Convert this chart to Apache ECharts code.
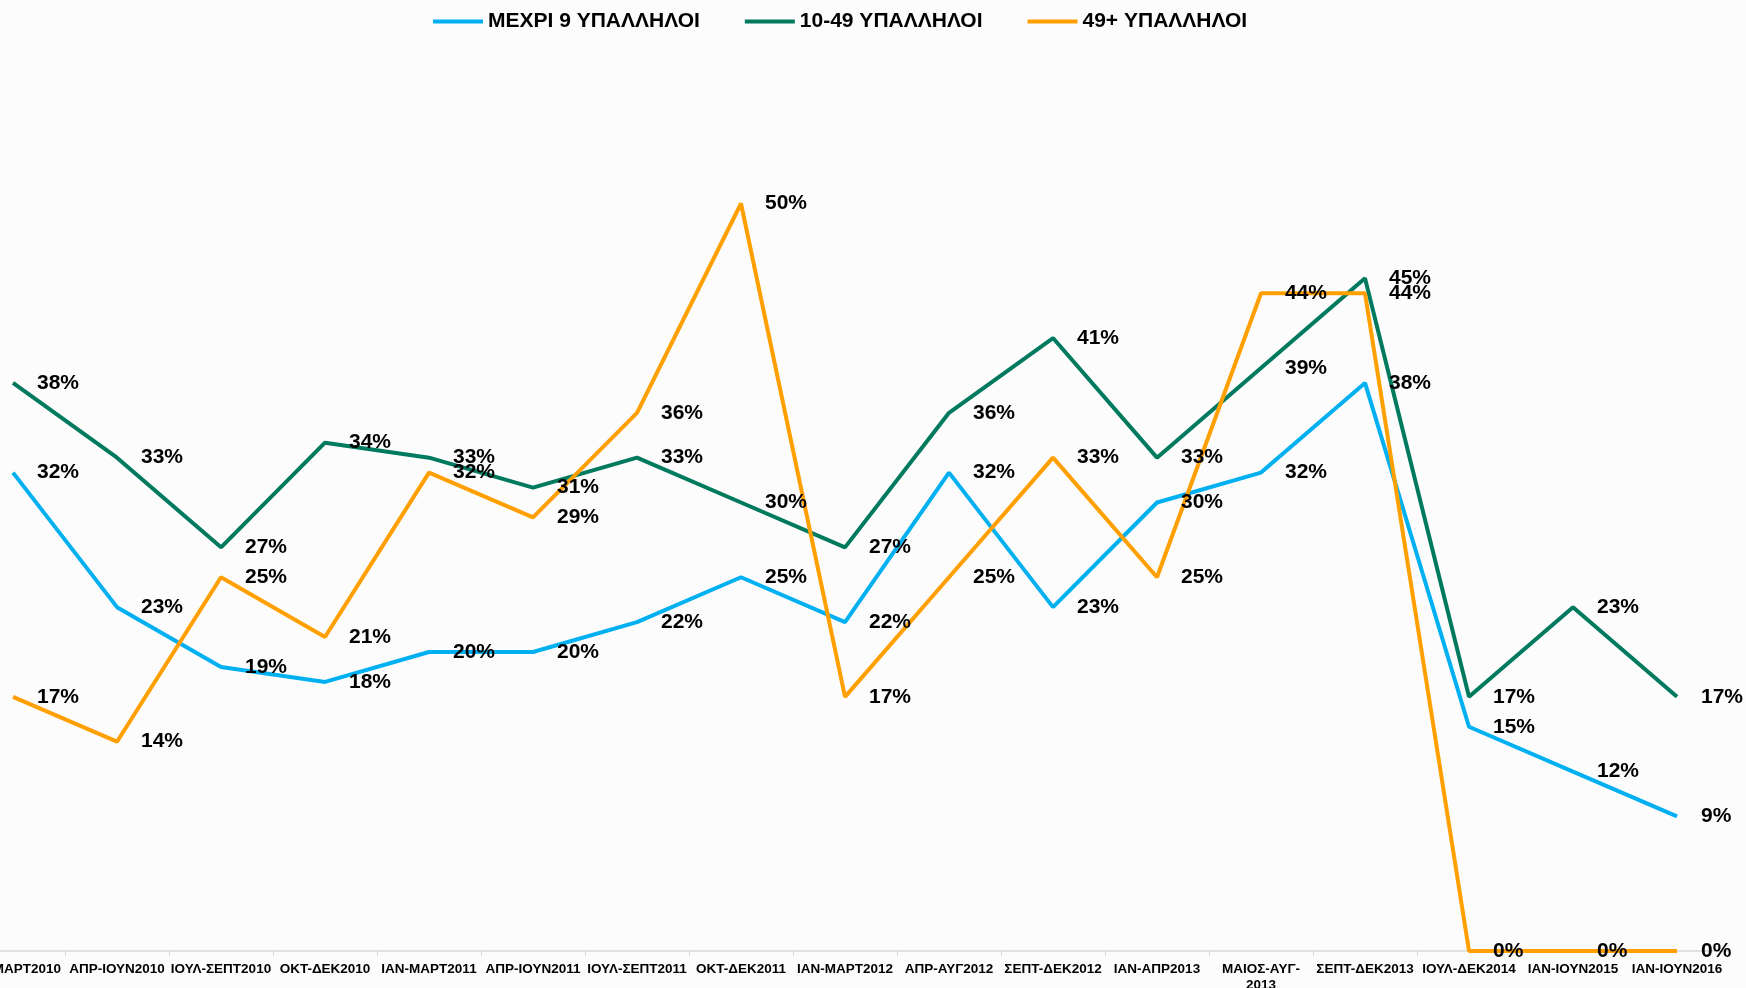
<!DOCTYPE html>
<html>
<head>
<meta charset="utf-8">
<script src="https://cdn.jsdelivr.net/npm/echarts@6/dist/echarts.min.js"></script>
<style>
  html, body { margin: 0; padding: 0; background: #fcfcfc; }
  #chart { width: 1746px; height: 988px; }
</style>
</head>
<body>
<div id="chart"></div>
<script>
const categories = [
  "ΙΑΝ-ΜΑΡΤ2010", "ΑΠΡ-ΙΟΥΝ2010", "ΙΟΥΛ-ΣΕΠΤ2010", "ΟΚΤ-ΔΕΚ2010",
  "ΙΑΝ-ΜΑΡΤ2011", "ΑΠΡ-ΙΟΥΝ2011", "ΙΟΥΛ-ΣΕΠΤ2011", "ΟΚΤ-ΔΕΚ2011",
  "ΙΑΝ-ΜΑΡΤ2012", "ΑΠΡ-ΑΥΓ2012", "ΣΕΠΤ-ΔΕΚ2012", "ΙΑΝ-ΑΠΡ2013",
  "ΜΑΙΟΣ-ΑΥΓ-\n2013", "ΣΕΠΤ-ΔΕΚ2013", "ΙΟΥΛ-ΔΕΚ2014", "ΙΑΝ-ΙΟΥΝ2015", "ΙΑΝ-ΙΟΥΝ2016"
];
const upTo9 = [32, 23, 19, 18, 20, 20, 22, 25, 22, 32, 23, 30, 32, 38, 15, 12, 9];
const from10to49 = [38, 33, 27, 34, 33, 31, 33, 30, 27, 36, 41, 33, 39, 45, 17, 23, 17];
const over49 = [17, 14, 25, 21, 32, 29, 36, 50, 17, 25, 33, 25, 44, 44, 0, 0, 0];

const seriesNames = ["ΜΕΧΡΙ 9 ΥΠΑΛΛΗΛΟΙ", "10-49 ΥΠΑΛΛΗΛΟΙ", "49+ ΥΠΑΛΛΗΛΟΙ"];
const colors = ["#00b0f0", "#007a5e", "#ff9f00"];
const font = "Liberation Sans, Arial, sans-serif";

const chart = echarts.init(document.getElementById("chart"));

const makeSeries = (name, data) => ({
  name,
  type: "line",
  data,
  symbol: "circle",
  symbolSize: 0.01,
  showSymbol: true,
  lineStyle: { width: 4 },
  emphasis: { disabled: true },
  label: {
    show: true,
    position: "right",
    distance: 24,
    padding: [7, 0, 0, 0],
    formatter: "{c}%",
    color: "#000",
    fontSize: 21,
    fontWeight: "bold",
    fontFamily: font
  },
  labelLayout: { hideOverlap: false }
});

chart.setOption({
  backgroundColor: "#fcfcfc",
  color: colors,
  animation: false,
  legend: {
    top: 6,
    left: 428,
    icon: "rect",
    itemWidth: 50,
    itemHeight: 4,
    itemGap: 45,
    textStyle: { color: "#000", fontSize: 21, fontWeight: "bold", fontFamily: font },
    data: seriesNames
  },
  grid: { left: -39, right: 17, top: 54, bottom: 37, outerBoundsMode: "none" },
  xAxis: {
    type: "category",
    data: categories,
    boundaryGap: true,
    axisLine: { lineStyle: { color: "#d9d9d9", width: 1.5 } },
    axisTick: { show: true, length: 5, lineStyle: { color: "#d9d9d9" } },
    axisLabel: {
      interval: 0,
      color: "#000",
      fontSize: 13.5,
      fontWeight: "bold",
      fontFamily: font,
      margin: 10,
      lineHeight: 16
    }
  },
  yAxis: { type: "value", min: 0, max: 60, show: false, splitLine: { show: false } },
  series: [
    makeSeries(seriesNames[0], upTo9),
    makeSeries(seriesNames[1], from10to49),
    makeSeries(seriesNames[2], over49)
  ]
});
</script>
</body>
</html>
